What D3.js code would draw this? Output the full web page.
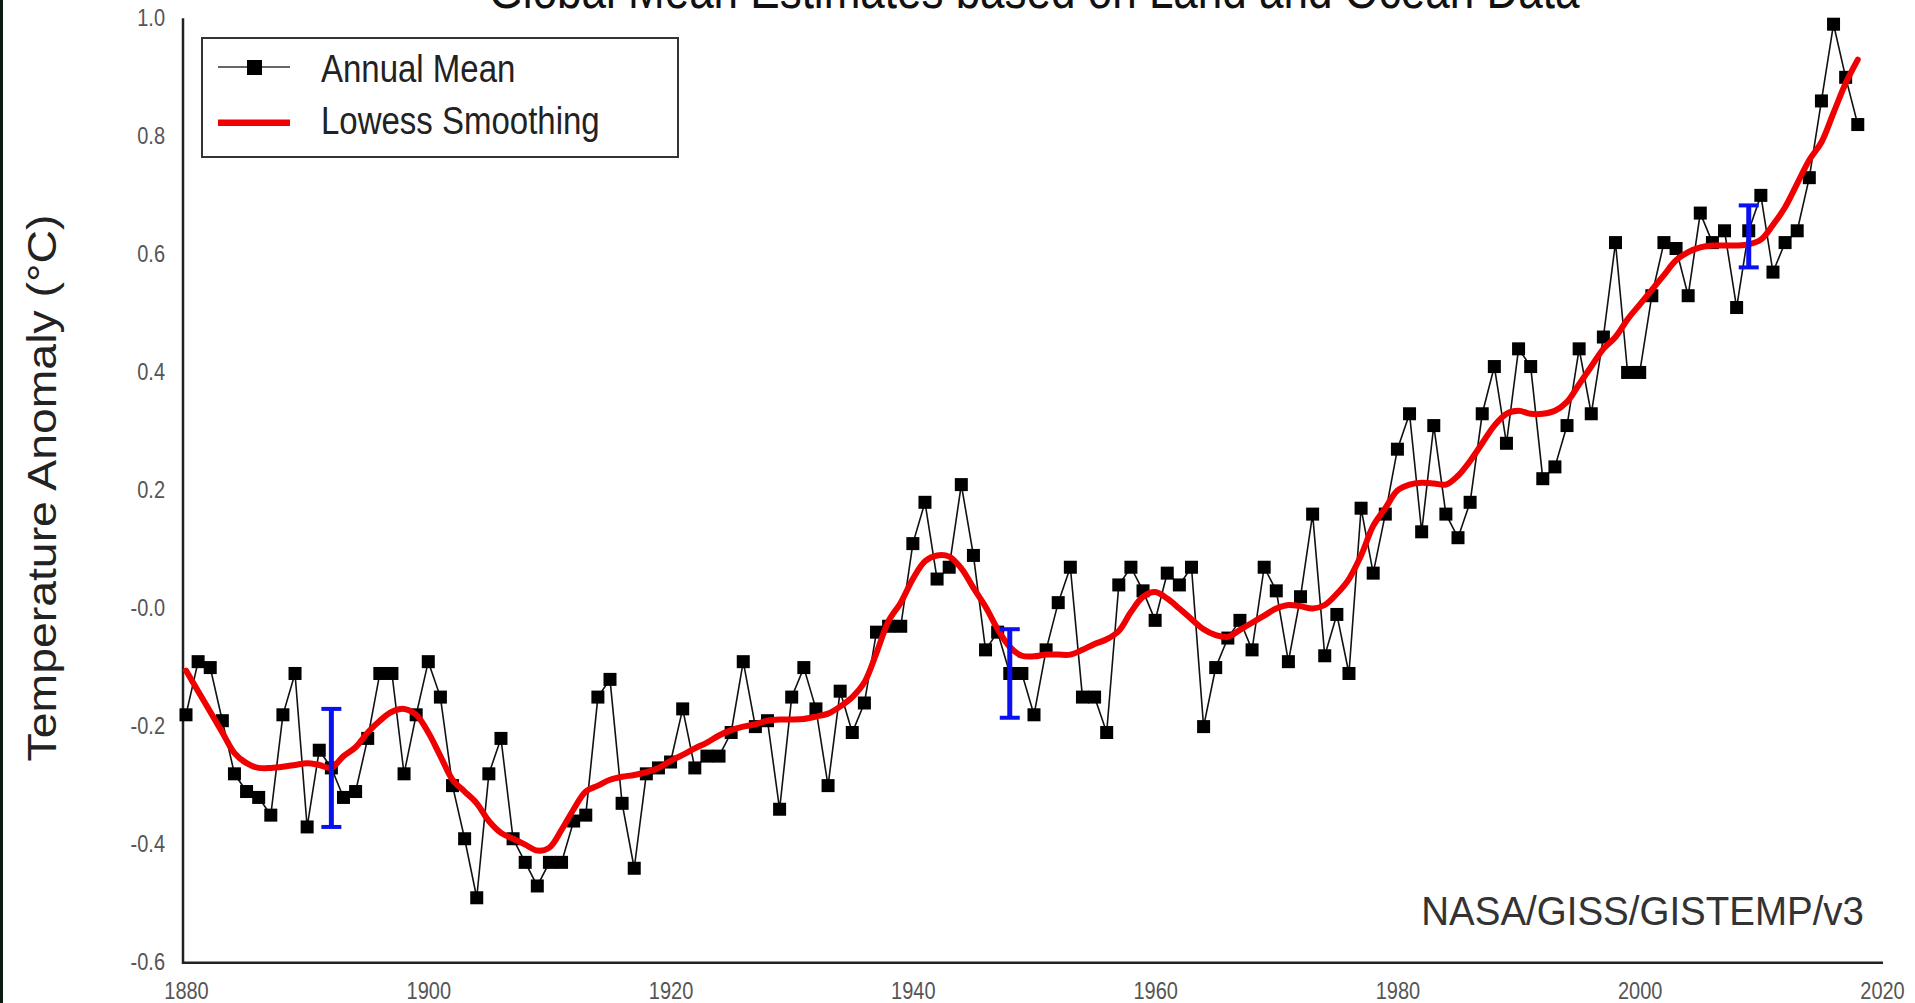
<!DOCTYPE html>
<html>
<head>
<meta charset="utf-8">
<script src="https://cdn.jsdelivr.net/npm/d3@7"></script>
<style>
  html, body { margin: 0; padding: 0; background: #fff; overflow: hidden; }
  svg { display: block; }
  text { font-family: "Liberation Sans", Arial, Helvetica, sans-serif; }
</style>
</head>
<body>
<svg id="chart" width="1915" height="1003"></svg>
<script>
// GISTEMP land-ocean index, annual means from 1880 onward (°C anomaly)
const firstYear = 1880;
const annualMean = [
  -0.18, -0.09, -0.10, -0.19, -0.28, -0.31, -0.32, -0.35, -0.18, -0.11,
  -0.37, -0.24, -0.27, -0.32, -0.31, -0.22, -0.11, -0.11, -0.28, -0.18,
  -0.09, -0.15, -0.30, -0.39, -0.49, -0.28, -0.22, -0.39, -0.43, -0.47,
  -0.43, -0.43, -0.36, -0.35, -0.15, -0.12, -0.33, -0.44, -0.28, -0.27,
  -0.26, -0.17, -0.27, -0.25, -0.25, -0.21, -0.09, -0.20, -0.19, -0.34,
  -0.15, -0.10, -0.17, -0.30, -0.14, -0.21, -0.16, -0.04, -0.03, -0.03,
   0.11,  0.18,  0.05,  0.07,  0.21,  0.09, -0.07, -0.04, -0.11, -0.11,
  -0.18, -0.07,  0.01,  0.07, -0.15, -0.15, -0.21,  0.04,  0.07,  0.03,
  -0.02,  0.06,  0.04,  0.07, -0.20, -0.10, -0.05, -0.02, -0.07,  0.07,
   0.03, -0.09,  0.02,  0.16, -0.08, -0.01, -0.11,  0.17,  0.06,  0.16,
   0.27,  0.33,  0.13,  0.31,  0.16,  0.12,  0.18,  0.33,  0.41,  0.28,
   0.44,  0.41,  0.22,  0.24,  0.31,  0.44,  0.33,  0.46,  0.62,  0.40,
   0.40,  0.53,  0.62,  0.61,  0.53,  0.67,  0.62,  0.64,  0.51,  0.64,
   0.70,  0.57,  0.62,  0.64,  0.73,  0.86,  0.99,  0.90,  0.82
];

// Lowess smoothing of the same series, one value per year
const lowess = [
  -0.105, -0.14, -0.175, -0.21, -0.245, -0.262, -0.27, -0.27, -0.268, -0.265,
  -0.262, -0.265, -0.27, -0.25, -0.235, -0.21, -0.19, -0.175, -0.17, -0.18,
  -0.21, -0.25, -0.29, -0.31, -0.33, -0.36, -0.38, -0.39, -0.40, -0.41,
  -0.405, -0.375, -0.34, -0.31, -0.30, -0.29, -0.285, -0.282, -0.277, -0.27,
  -0.258, -0.248, -0.237, -0.227, -0.215, -0.206, -0.20, -0.196, -0.19, -0.188,
  -0.188, -0.187, -0.183, -0.178, -0.166, -0.15, -0.125, -0.075, -0.021, 0.01,
   0.05,  0.08,  0.09,  0.088, 0.068, 0.035, 0.003, -0.035, -0.065, -0.08,
  -0.081, -0.078, -0.078, -0.078, -0.07, -0.06, -0.052, -0.038, -0.006, 0.02,
   0.028, 0.017, 0.0, -0.018, -0.035, -0.045, -0.048, -0.036, -0.024, -0.012,
   0.0,  0.006, 0.004, 0.0, 0.006, 0.025, 0.05, 0.09, 0.14, 0.17,
   0.20, 0.21, 0.213, 0.212, 0.21, 0.225, 0.25, 0.28, 0.31, 0.33,
   0.335, 0.33, 0.33, 0.335, 0.35, 0.38, 0.41, 0.44, 0.46, 0.49,
   0.515, 0.54, 0.565, 0.59, 0.604, 0.612, 0.615, 0.615, 0.615, 0.617,
   0.625, 0.65, 0.68, 0.72, 0.76, 0.79, 0.84, 0.89, 0.93
];

// Uncertainty bars
const errorYears = [1892, 1948, 2009];
const errorLow   = [-0.37, -0.185, 0.578];
const errorHigh  = [-0.17, -0.035, 0.683];

// Axis ticks
const xTicks = [1880, 1900, 1920, 1940, 1960, 1980, 2000, 2020];
const yTicks = [-0.6, -0.4, -0.2, 0.0, 0.2, 0.4, 0.6, 0.8, 1.0];
const yTickLabels = ["-0.6", "-0.4", "-0.2", "-0.0", "0.2", "0.4", "0.6", "0.8", "1.0"];

const titleText = "Global Mean Estimates based on Land and Ocean Data";
const yAxisTitle = "Temperature Anomaly (\u00B0C)";
const sourceText = "NASA/GISS/GISTEMP/v3";
const legendLabels = ["Annual Mean", "Lowess Smoothing"];

// Text in this figure is drawn slightly taller than wide
const STRETCH = 1.16;

const svg = d3.select("#chart");

const x = d3.scaleLinear().domain([1880, 2020]).range([186, 1882]);
const y = d3.scaleLinear().domain([-0.6, 1.0]).range([962.7, 18.3]);

const annual = annualMean.map((v, i) => ({ year: firstYear + i, value: v }));
const smooth = lowess.map((v, i) => ({ year: firstYear + i, value: v }));

// dark frame strip on the left edge
svg.append("rect").attr("x", 0).attr("y", 0).attr("width", 3).attr("height", 1003).attr("fill", "#0c1b10");

// title (runs past the top edge)
svg.append("text")
  .attr("transform", `translate(1034,8) scale(1,${STRETCH})`)
  .attr("text-anchor", "middle")
  .attr("font-size", 44)
  .attr("fill", "#111")
  .text(titleText);

// y axis title
svg.append("text")
  .attr("transform", `translate(56,488) scale(1,${STRETCH}) rotate(-90)`)
  .attr("text-anchor", "middle")
  .attr("font-size", 40)
  .attr("fill", "#222")
  .text(yAxisTitle);

// Axes (labels only; the frame lines are drawn below)
const yAxis = d3.axisLeft(y)
  .tickValues(yTicks)
  .tickSize(0)
  .tickPadding(0)
  .tickFormat((d, i) => yTickLabels[i]);

const gy = svg.append("g").attr("transform", `translate(${x.range()[0] - 3},0)`).call(yAxis);
gy.select(".domain").remove();
gy.attr("font-family", null).attr("font-size", null);
gy.selectAll("text")
  .attr("font-size", 20)
  .attr("fill", "#555")
  .attr("x", -18)
  .attr("y", 0)
  .attr("dy", (0.35 / STRETCH) + "em")
  .attr("transform", `scale(1,${STRETCH})`);

const xAxis = d3.axisBottom(x)
  .tickValues(xTicks)
  .tickSize(0)
  .tickFormat(d3.format("d"));

const gx = svg.append("g").attr("transform", `translate(0,${y.range()[0]})`).call(xAxis);
gx.select(".domain").remove();
gx.attr("font-family", null).attr("font-size", null);
gx.selectAll("text")
  .attr("font-size", 20)
  .attr("fill", "#555")
  .attr("dy", null)
  .attr("y", 36 / STRETCH)
  .attr("transform", `scale(1,${STRETCH})`);

// axis frame lines
svg.append("path")
  .attr("d", `M${x.range()[0] - 3},${y.range()[1]} V${y.range()[0]} H${x.range()[1] + 1}`)
  .attr("fill", "none")
  .attr("stroke", "#222")
  .attr("stroke-width", 2.5);

// source label
svg.append("text")
  .attr("transform", `translate(1864,925) scale(1,1.04)`)
  .attr("text-anchor", "end")
  .attr("font-size", 38.5)
  .attr("fill", "#333")
  .text(sourceText);

// annual mean line and markers
const line = d3.line().x(d => x(d.year)).y(d => y(d.value));
svg.append("path")
  .datum(annual)
  .attr("d", line)
  .attr("fill", "none")
  .attr("stroke", "#111")
  .attr("stroke-width", 1.6);

const SQ = 13;
svg.append("g").selectAll("rect")
  .data(annual)
  .join("rect")
  .attr("x", d => x(d.year) - SQ / 2)
  .attr("y", d => y(d.value) - SQ / 2)
  .attr("width", SQ)
  .attr("height", SQ)
  .attr("fill", "#000");

// lowess curve
const smoothLine = d3.line().curve(d3.curveCatmullRom.alpha(0.5)).x(d => x(d.year)).y(d => y(d.value));
svg.append("path")
  .datum(smooth)
  .attr("d", smoothLine)
  .attr("fill", "none")
  .attr("stroke", "#f00000")
  .attr("stroke-width", 6)
  .attr("stroke-linecap", "round")
  .attr("stroke-linejoin", "round");

// uncertainty bars
const bars = errorYears.map((yr, i) => ({ year: yr, lo: errorLow[i], hi: errorHigh[i] }));
const gb = svg.append("g").attr("stroke", "#0a10f0").attr("fill", "none");
gb.selectAll("line.v").data(bars).join("line").attr("class", "v")
  .attr("x1", d => x(d.year)).attr("x2", d => x(d.year))
  .attr("y1", d => y(d.hi)).attr("y2", d => y(d.lo))
  .attr("stroke-width", 5);
gb.selectAll("line.t").data(bars).join("line").attr("class", "t")
  .attr("x1", d => x(d.year) - 10).attr("x2", d => x(d.year) + 10)
  .attr("y1", d => y(d.hi)).attr("y2", d => y(d.hi))
  .attr("stroke-width", 4);
gb.selectAll("line.b").data(bars).join("line").attr("class", "b")
  .attr("x1", d => x(d.year) - 10).attr("x2", d => x(d.year) + 10)
  .attr("y1", d => y(d.lo)).attr("y2", d => y(d.lo))
  .attr("stroke-width", 4);

// legend
const lg = svg.append("g");
lg.append("rect")
  .attr("x", 202).attr("y", 38).attr("width", 476).attr("height", 119)
  .attr("fill", "#fff").attr("stroke", "#333").attr("stroke-width", 2);
lg.append("line").attr("x1", 218).attr("x2", 290).attr("y1", 67).attr("y2", 67)
  .attr("stroke", "#333").attr("stroke-width", 1.6);
lg.append("rect").attr("x", 247).attr("y", 60).attr("width", 15).attr("height", 15).attr("fill", "#000");
lg.append("line").attr("x1", 218).attr("x2", 290).attr("y1", 122.7).attr("y2", 122.7)
  .attr("stroke", "#f00000").attr("stroke-width", 6.5);
lg.selectAll("text.lbl").data(legendLabels).join("text").attr("class", "lbl")
  .attr("transform", (d, i) => `translate(321,${i === 0 ? 82 : 134}) scale(1,${STRETCH})`)
  .attr("font-size", 33)
  .attr("fill", "#222")
  .text(d => d);
</script>
</body>
</html>
